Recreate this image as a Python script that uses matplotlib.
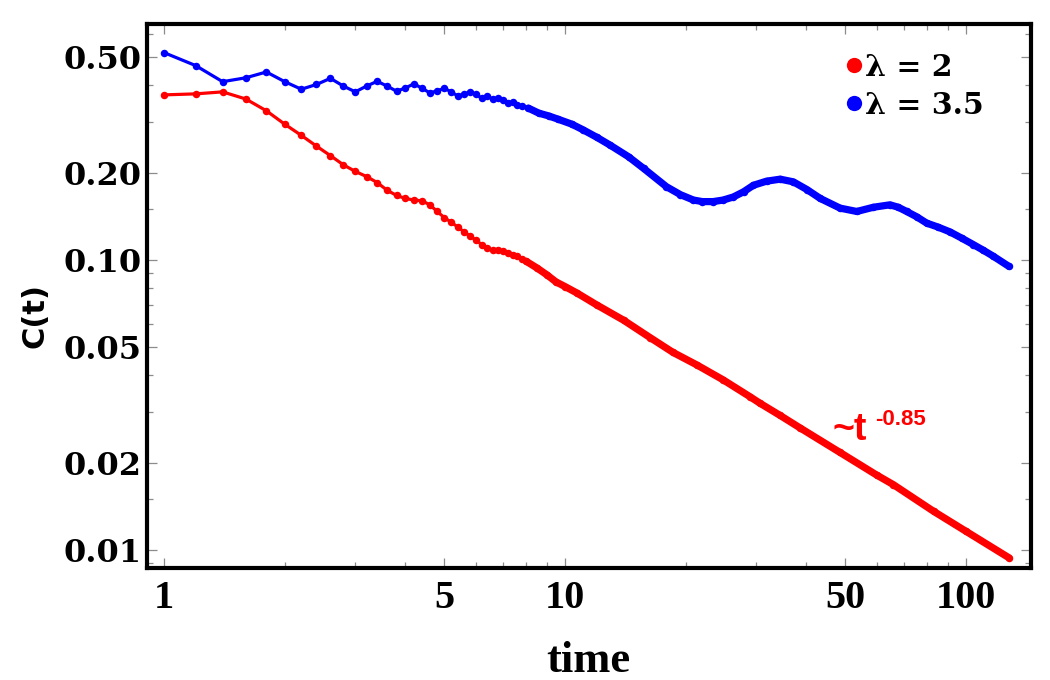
import matplotlib
matplotlib.use("Agg")
import matplotlib.pyplot as plt
from matplotlib.lines import Line2D
import numpy as np

# ---------------- data ----------------
t_red = [1.0, 1.2, 1.4, 1.6, 1.8, 2.0, 2.2, 2.4, 2.6, 2.8, 3.0, 3.2, 3.4, 3.6, 3.8,
         4.0, 4.2, 4.4, 4.6, 4.8, 5.0, 5.2, 5.4, 5.6, 5.8, 6.0, 6.2, 6.4, 6.6, 6.8,
         7.0, 7.2, 7.4, 7.6, 7.8, 8.0, 8.5, 9.0, 9.5, 10.0, 10.7, 12.0, 14.0, 16.3,
         18.6, 21.3, 24.8, 28.9, 30.6, 34.4, 38.5, 48.5, 60.0, 65.9, 83.0, 100.0, 128.0]
c_red = [0.371, 0.374, 0.380, 0.359, 0.327, 0.294, 0.269, 0.247, 0.229, 0.213, 0.202,
         0.194, 0.185, 0.174, 0.167, 0.163, 0.161, 0.160, 0.155, 0.147, 0.140, 0.135,
         0.130, 0.125, 0.121, 0.117, 0.113, 0.110, 0.108, 0.108, 0.1075, 0.106, 0.104,
         0.103, 0.101, 0.099, 0.094, 0.089, 0.084, 0.081, 0.077, 0.070, 0.062, 0.054,
         0.048, 0.0435, 0.0386, 0.0338, 0.0321, 0.0291, 0.0264, 0.0217, 0.0181, 0.0168,
         0.0136, 0.0116, 0.0094]

t_blue = [1.0, 1.2, 1.4, 1.6, 1.8, 2.0, 2.2, 2.4, 2.6, 2.8, 3.0, 3.2, 3.4, 3.6, 3.8,
          4.0, 4.2, 4.4, 4.6, 4.8, 5.0, 5.2, 5.4, 5.6, 5.8, 6.0, 6.2, 6.4, 6.6, 6.8,
          7.0, 7.2, 7.4, 7.6, 7.8, 8.1, 8.6, 9.1, 9.6, 10.4, 11.1, 12.0, 12.95, 14.4,
          15.7, 17.9, 19.4, 20.9, 22.0, 23.4, 24.8, 26.3, 27.9, 29.5, 31.8, 34.4, 37.1,
          40.1, 43.3, 48.5, 53.4, 58.7, 64.6, 67.8, 71.1, 75.3, 79.8, 85.0, 91.2,
          97.5, 104.3, 110.5, 117.0, 128.0]
c_blue = [0.519, 0.468, 0.412, 0.425, 0.445, 0.412, 0.388, 0.403, 0.423, 0.398, 0.380,
          0.398, 0.413, 0.398, 0.382, 0.392, 0.405, 0.391, 0.377, 0.383, 0.391, 0.380,
          0.368, 0.373, 0.380, 0.373, 0.361, 0.369, 0.358, 0.362, 0.355, 0.349, 0.350,
          0.342, 0.340, 0.334, 0.321, 0.314, 0.306, 0.294, 0.281, 0.265, 0.249, 0.227,
          0.207, 0.179, 0.168, 0.161, 0.159, 0.159, 0.161, 0.165, 0.172, 0.181, 0.187,
          0.190, 0.186, 0.175, 0.163, 0.151, 0.147, 0.152, 0.155, 0.152, 0.147, 0.141,
          0.134, 0.130, 0.125, 0.119, 0.113, 0.108, 0.103, 0.095]

series_labels = ["\u03bb = 2", "\u03bb = 3.5"]
series_colors = ["#ff0000", "#0000ff"]

x_major = [1, 5, 10, 50, 100]
x_major_labels = ["1", "5", "10", "50", "100"]
x_minor = [2, 3, 4, 6, 7, 8, 9, 20, 30, 40, 60, 70, 80, 90]
y_major = [0.01, 0.02, 0.05, 0.1, 0.2, 0.5]
y_major_labels = ["0.01", "0.02", "0.05", "0.10", "0.20", "0.50"]
y_minor = [0.009, 0.015, 0.03, 0.04, 0.06, 0.07, 0.08, 0.09, 0.15, 0.3, 0.4, 0.6]

# ---------------- figure ----------------
fig = plt.figure(figsize=(10.5, 6.8), dpi=100)
ax = fig.add_axes([147 / 1050, 1 - 568 / 680, (1031 - 147) / 1050, (568 - 24) / 680])
ax.set_xscale("log")
ax.set_yscale("log")

for tt, cc, col in [(t_red, c_red, series_colors[0]), (t_blue, c_blue, series_colors[1])]:
    tt = np.asarray(tt)
    cc = np.asarray(cc)
    ax.plot(tt, cc, color=col, lw=2.3, marker="o", ms=5.4, mew=0, zorder=3)
    dense = tt >= 8.0
    ax.plot(tt[dense], cc[dense], color=col, lw=5.2, solid_capstyle="round",
            solid_joinstyle="round", zorder=3)

ax.set_xlim(0.907, 145.2)
ax.set_ylim(0.00867, 0.6513)

ax.set_xticks(x_major)
ax.set_xticklabels(x_major_labels)
ax.set_xticks(x_minor, minor=True)
ax.set_xticklabels([], minor=True)
ax.set_yticks(y_major)
ax.set_yticklabels(y_major_labels)
ax.set_yticks(y_minor, minor=True)
ax.set_yticklabels([], minor=True)

ax.tick_params(which="both", direction="in", top=True, right=True, color="#8c8c8c",
               width=0.9)
ax.tick_params(which="major", length=7)
ax.tick_params(which="minor", length=4)
ax.tick_params(axis="x", which="major", pad=9)
ax.tick_params(axis="y", which="major", pad=4)

for lab in ax.get_xticklabels():
    lab.set_fontfamily("Liberation Serif")
    lab.set_fontweight("bold")
    lab.set_fontsize(29)
for lab in ax.get_yticklabels():
    lab.set_fontfamily("DejaVu Serif")
    lab.set_fontweight("bold")
    lab.set_fontsize(23)

for sp in ax.spines.values():
    sp.set_linewidth(3.0)
    sp.set_color("black")

fig.text(588 / 1050, 1 - 672 / 680, "time", ha="center", va="baseline",
         fontfamily="Liberation Serif", fontweight="bold", fontsize=32)
fig.text(35 / 1050, 1 - 315 / 680, "C(t)", ha="center", va="center", rotation=90,
         fontfamily="DejaVu Sans", fontweight="bold", fontsize=22)

fig.text(833 / 1050, 1 - 440 / 680, "~t", ha="left", va="baseline", color="#ff0000",
         fontfamily="Liberation Sans", fontweight="bold", fontsize=27)
fig.text(875 / 1050, 1 - 425 / 680, "-0.85", ha="left", va="baseline", color="#ff0000",
         fontfamily="Liberation Sans", fontweight="bold", fontsize=16)

handles = [Line2D([], [], ls="none", marker="o", ms=11, mew=0, color=c)
           for c in series_colors]
leg = ax.legend(handles, series_labels, loc="upper left",
                bbox_to_anchor=((846 - 147) / 885, (568 - 52) / 545),
                frameon=False, borderpad=0, borderaxespad=0, handlelength=0.6,
                handletextpad=0.05, labelspacing=0.3,
                prop={"family": "DejaVu Serif", "weight": "bold", "size": 21.5})

fig.savefig("out.png", dpi=100)
